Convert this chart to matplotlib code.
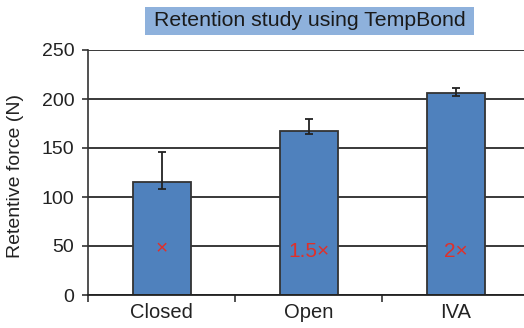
import matplotlib
matplotlib.use("Agg")
import matplotlib.pyplot as plt
from matplotlib.patches import Rectangle
import numpy as np

categories = ["Closed", "Open", "IVA"]
values = [115.6, 167.7, 205.8]
err_lower = [7.7, 3.1, 2.4]
err_upper = [30.6, 11.9, 5.4]
annotations = ["\u00d7", "1.5\u00d7", "2\u00d7"]
yticks = [0, 50, 100, 150, 200, 250]
title = "Retention study using TempBond"
ylabel = "Retentive force (N)"

plt.rcParams['font.family'] = ['Liberation Sans', 'DejaVu Sans']

W, H = 524, 328
fig = plt.figure(figsize=(W / 100, H / 100), dpi=100)
ax = fig.add_axes([88.3 / W, 1 - 295 / H, 441 / W, 245 / H])

x = np.arange(len(categories))
ax.set_axisbelow(True)
ax.yaxis.grid(True, color="#2a2a2a", lw=1.3)
ax.bar(x, values, width=0.395, color="#4f81bd", edgecolor="#333333", lw=1.3, zorder=2)
ax.errorbar(x, values, yerr=[err_lower, err_upper], fmt="none", ecolor="#222222",
            elinewidth=1.3, capsize=3, capthick=1.3, zorder=3)

for xi, t in zip(x, annotations):
    y = 47.6 if t == "\u00d7" else 44
    ax.text(xi, y, t, color="#e0302a", fontsize=15, ha="center", va="center", zorder=4)

ax.set_xlim(-0.5, 2.5)
ax.set_ylim(0, 250)
ax.set_yticks(yticks)
ax.set_yticklabels([str(v) for v in yticks], fontsize=14, color="#222222")
ax.tick_params(axis="y", length=4, width=1.2, color="#333333", pad=6)

ax.set_xticks([-0.5, 0.5, 1.5, 2.5])
ax.set_xticklabels([])
ax.set_xticks(x, minor=True)
ax.set_xticklabels(categories, minor=True, fontsize=14.5, color="#222222")
ax.tick_params(axis="x", which="major", length=5, width=1.2, color="#333333")
ax.tick_params(axis="x", which="minor", length=0, pad=6)

for s in ["top", "right"]:
    ax.spines[s].set_visible(False)
ax.spines["left"].set_color("#333333")
ax.spines["left"].set_linewidth(1.2)
ax.spines["bottom"].set_color("#222222")
ax.spines["bottom"].set_linewidth(1.3)

fig.text(16 / W, 1 - 176 / H, ylabel, rotation=90, fontsize=14, color="#222222",
         ha="center", va="center")

fig.patches.append(Rectangle((145 / W, 1 - 35 / H), (474 - 145) / W, 28.3 / H,
                             transform=fig.transFigure, facecolor="#8eb1dc",
                             edgecolor="none", zorder=1))
fig.text(309.5 / W, 1 - 21 / H, title, fontsize=15.3, color="#1a1a1a",
         ha="center", va="center", zorder=2)

fig.savefig("out.png", dpi=100)
